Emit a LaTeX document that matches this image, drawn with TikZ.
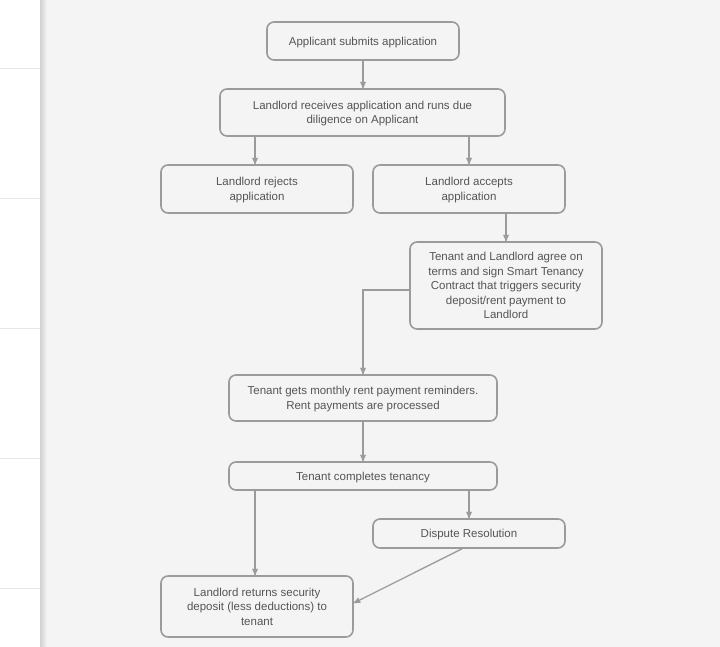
\documentclass[tikz,border=0pt]{standalone}
\usepackage{fontspec}
\setmainfont{Liberation Sans}
\usetikzlibrary{arrows,positioning}
\definecolor{bgpage}{HTML}{F4F4F4}
\definecolor{boxline}{HTML}{9B9B9B}
\definecolor{boxtext}{HTML}{555555}
\definecolor{rowline}{HTML}{E6E6E6}

\begin{document}
\begin{tikzpicture}
[x=1pt, y=-1pt, font=\fontsize{11.5}{14.5}\selectfont, line width=1.6pt, >=stealth',
stepbox/.style={rectangle, rounded corners=7pt, draw=boxline, text=boxtext, align=center, inner sep=0pt, text depth=0pt},
flow/.style={->, draw=boxline, line width=1.3pt}]

\useasboundingbox (0,0) rectangle (720,647);
\fill[bgpage] (0,0) rectangle (720,647);
\fill[white] (0,0) rectangle (40,647);
\shade[left color=gray!35, right color=bgpage] (40,0) rectangle (47,647);
\foreach \y in {68,198,328,458,588} {
  \draw[line width=0.8pt, draw=rowline] (0,\y) -- (40,\y);
}

\node[stepbox, minimum width=192pt, minimum height=38pt] (apply) at (363,41) {Applicant submits application};
\node[stepbox, minimum width=285pt, minimum height=47pt] (check) at (362.5,112.5) {Landlord receives application and runs due\\diligence on Applicant};
\node[stepbox, minimum width=192pt, minimum height=48pt] (reject) at (257,189) {Landlord rejects\\application};
\node[stepbox, minimum width=192pt, minimum height=48pt] (accept) at (469,189) {Landlord accepts\\application};
\node[stepbox, minimum width=192pt, minimum height=87pt] (agree) at (506,285.5) {Tenant and Landlord agree on\\terms and sign Smart Tenancy\\Contract that triggers security\\deposit/rent payment to\\Landlord};
\node[stepbox, minimum width=268pt, minimum height=46pt] (rent) at (363,398) {Tenant gets monthly rent payment reminders.\\Rent payments are processed};
\node[stepbox, minimum width=268pt, minimum height=28pt] (done) at (363,476) {Tenant completes tenancy};
\node[stepbox, minimum width=192pt, minimum height=29pt] (dispute) at (469,533.5) {Dispute Resolution};
\node[stepbox, minimum width=192pt, minimum height=61pt] (refund) at (257,606.5) {Landlord returns security\\deposit (less deductions) to\\tenant};

\draw[flow] (apply.south) -- (apply.south |- check.north);
\draw[flow] ([xshift=-2pt]reject.north |- check.south) -- ([xshift=-2pt]reject.north);
\draw[flow] (accept.north |- check.south) -- (accept.north);
\draw[flow] (agree.north |- accept.south) -- (agree.north);
\draw[flow] ([yshift=-4.5pt]agree.west) -| (rent.north);
\draw[flow] (rent.south) -- (rent.south |- done.north);
\draw[flow] ([xshift=-2pt]refund.north |- done.south) -- ([xshift=-2pt]refund.north);
\draw[flow] (dispute.north |- done.south) -- (dispute.north);
\draw[flow] ([xshift=-7pt]dispute.south) -- ([yshift=3.5pt]refund.east);
\end{tikzpicture}
\end{document}
